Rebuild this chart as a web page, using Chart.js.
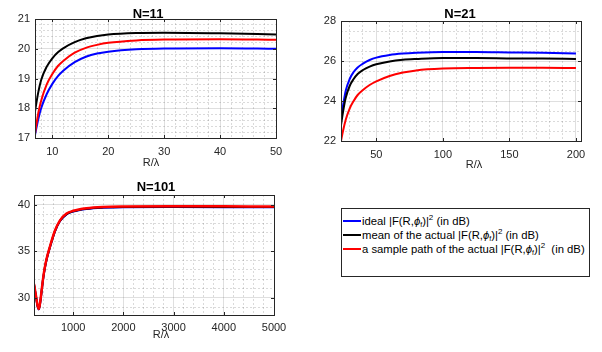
<!DOCTYPE html>
<html>
<head>
<meta charset="utf-8">
<script src="https://cdn.jsdelivr.net/npm/chart.js@4.4.0/dist/chart.umd.min.js"></script>
<style>
  body { margin: 0; background: #fff; width: 602px; height: 352px; overflow: hidden; position: relative;
         font-family: "Liberation Sans", Arial, sans-serif; }
  canvas { position: absolute; }
  #legend { position: absolute; left: 341px; top: 208px; width: 249px; height: 69px; box-sizing: border-box;
            border: 1px solid #262626; background: #fff; }
  #legend .row { position: absolute; left: 0; height: 14px; line-height: 14px; white-space: nowrap;
                 font-size: 11.3px; color: #000; }
  #legend .ln { position: absolute; left: 1px; top: 6px; width: 18px; height: 2px; }
  #legend .tx { position: absolute; left: 20px; top: 0; }
  #legend sup, #legend sub { font-size: 8px; line-height: 0; position: relative; vertical-align: baseline; }
  #legend sup { top: -5px; }
  #legend sub { top: 2px; font-size: 7px; }
</style>
</head>
<body>
<canvas id="c11" width="300" height="176" style="left:0;top:0"></canvas>
<canvas id="c21" width="302" height="176" style="left:300px;top:0"></canvas>
<canvas id="c101" width="300" height="182" style="left:0;top:170px"></canvas>

<div id="legend">
  <div class="row" style="top:5px"><span class="ln" style="background:#0000ff"></span><span class="tx">ideal |F(R,<i>ϕ</i><sub>f</sub>)|<sup>2</sup> (in dB)</span></div>
  <div class="row" style="top:19px"><span class="ln" style="background:#000000"></span><span class="tx">mean of the actual |F(R,<i>ϕ</i><sub>f</sub>)|<sup>2</sup> (in dB)</span></div>
  <div class="row" style="top:33px"><span class="ln" style="background:#ff0000"></span><span class="tx">a sample path of the actual |F(R,<i>ϕ</i><sub>f</sub>)|<sup>2</sup>&nbsp; (in dB)</span></div>
</div>

<script>
// --- dati ---
// N=11
const x11 = [6.9, 7.5, 8, 9, 10, 11, 12, 14, 16, 18, 20, 25, 30, 40, 50];
const ideal11 = [17.1, 17.65, 18.0, 18.48, 18.82, 19.08, 19.27, 19.55, 19.73, 19.84, 19.9, 19.98, 20.01, 20.02, 20.0];
const mean11 = [17.9, 18.55, 18.95, 19.4, 19.68, 19.88, 20.02, 20.22, 20.35, 20.43, 20.48, 20.53, 20.54, 20.52, 20.48];
const sample11 = [17.15, 17.85, 18.25, 18.8, 19.15, 19.42, 19.6, 19.87, 20.03, 20.13, 20.2, 20.28, 20.31, 20.32, 20.3];

// N=21
const x21 = [23.5, 25, 27, 30, 33, 36, 40, 45, 50, 60, 70, 80, 100, 125, 150, 175, 200];
const ideal21 = [23.1, 23.75, 24.5, 25.1, 25.45, 25.68, 25.87, 26.05, 26.17, 26.3, 26.37, 26.41, 26.45, 26.45, 26.43, 26.41, 26.38];
const mean21 = [22.8, 23.45, 24.15, 24.75, 25.1, 25.35, 25.55, 25.72, 25.84, 25.98, 26.06, 26.1, 26.15, 26.15, 26.13, 26.12, 26.1];
const sample21 = [22.0, 22.5, 23.05, 23.62, 24.0, 24.3, 24.55, 24.8, 24.98, 25.25, 25.42, 25.53, 25.62, 25.65, 25.66, 25.66, 25.65];

// N=101
const x101 = [220, 260, 290, 318, 345, 372, 404, 437, 471, 537, 636, 735, 868, 1000, 1266, 1595, 2000, 3000, 4000, 5000];
const ideal101 = [31.4, 30.1, 29.1, 28.76, 29.5, 30.7, 32.1, 33.2, 34.1, 35.4, 37.1, 38.22, 38.97, 39.27, 39.55, 39.69, 39.74, 39.75, 39.74, 39.72];
const mean101 = [31.45, 30.15, 29.15, 28.78, 29.55, 30.75, 32.15, 33.25, 34.15, 35.45, 37.15, 38.26, 39.0, 39.3, 39.58, 39.72, 39.77, 39.78, 39.77, 39.75];
const sample101 = [31.5, 30.2, 29.2, 28.8, 29.6, 30.8, 32.2, 33.3, 34.2, 35.5, 37.2, 38.3, 39.05, 39.35, 39.63, 39.77, 39.82, 39.84, 39.83, 39.82];

const FONT = '"Liberation Sans", Arial, sans-serif';
const AXIS_COLOR = '#262626';

// box completo + tacche interne + titolo e etichetta asse x
const matlabBox = {
  id: 'matlabBox',
  afterDatasetsDraw(chart, args, opts) {
    const { ctx, chartArea: a, scales: { x, y } } = chart;
    ctx.save();
    ctx.strokeStyle = AXIS_COLOR;
    ctx.lineWidth = 1;
    ctx.strokeRect(a.left + 0.5, a.top + 0.5, a.right - a.left, a.bottom - a.top);
    ctx.beginPath();
    x.ticks.forEach(t => {
      if (!opts.isMajorX(t.value)) return;
      const px = Math.round(x.getPixelForValue(t.value)) + 0.5;
      ctx.moveTo(px, a.bottom); ctx.lineTo(px, a.bottom - 3);
      ctx.moveTo(px, a.top); ctx.lineTo(px, a.top + 3);
    });
    y.ticks.forEach(t => {
      if (!opts.isMajorY(t.value)) return;
      const py = Math.round(y.getPixelForValue(t.value)) + 0.5;
      ctx.moveTo(a.left, py); ctx.lineTo(a.left + 3, py);
      ctx.moveTo(a.right, py); ctx.lineTo(a.right - 3, py);
    });
    ctx.stroke();

    ctx.fillStyle = '#000';
    ctx.textAlign = 'center';
    ctx.textBaseline = 'alphabetic';
    ctx.font = 'bold 13px ' + FONT;
    ctx.fillText(opts.title, opts.titleX, opts.titleY);
    ctx.fillStyle = AXIS_COLOR;
    ctx.font = '11px ' + FONT;
    ctx.fillText('R/λ', opts.labelX, opts.labelY);
    ctx.restore();
  }
};

function majorTest(step) {
  return v => Math.abs(v / step - Math.round(v / step)) < 1e-6;
}

function axisOpts(min, max, minor, major, size, isX, pad) {
  const isMajor = majorTest(major);
  return {
    type: 'linear', min: min, max: max,
    afterFit: s => { if (isX) s.height = size; else s.width = size; },
    // tacche ai multipli del passo minore (griglia minore + maggiore)
    afterBuildTicks: s => {
      const t = [];
      const k0 = Math.ceil(min / minor - 1e-9), k1 = Math.floor(max / minor + 1e-9);
      for (let k = k0; k <= k1; k++) t.push({ value: +(k * minor).toFixed(6) });
      s.ticks = t;
    },
    ticks: {
      autoSkip: false, maxRotation: 0, minRotation: 0, padding: pad, color: AXIS_COLOR,
      font: { family: FONT, size: 11 },
      callback: v => isMajor(v) ? String(Math.round(v)) : ''
    },
    grid: {
      drawTicks: false, lineWidth: 1,
      color: c => (c.tick && isMajor(c.tick.value)) ? 'rgba(38,38,38,0.15)' : 'rgba(38,38,38,0.17)'
    },
    border: {
      display: false,
      dash: c => (c.tick && isMajor(c.tick.value)) ? [] : [2, 2]
    }
  };
}

function makePlot(id, p) {
  const canvas = document.getElementById(id);
  const W = canvas.width, H = canvas.height;
  const a = p.area;
  const serie = (ys, color, order) => ({
    data: p.x.map((xv, i) => ({ x: xv, y: ys[i] })),
    borderColor: color, borderWidth: p.lw[order], pointRadius: 0,
    cubicInterpolationMode: 'monotone', fill: false, order: order
  });
  return new Chart(canvas, {
    type: 'line',
    data: {
      datasets: [
        serie(p.ideal, '#0000ff', 2),
        serie(p.mean, '#000000', 1),
        serie(p.sample, '#ff0000', 0)
      ]
    },
    options: {
      responsive: false, animation: false, devicePixelRatio: 1,
      layout: { padding: { left: 0, top: a.t, right: W - a.r, bottom: 0 } },
      plugins: {
        legend: { display: false },
        tooltip: { enabled: false },
        matlabBox: {
          title: p.title, titleX: p.titleX, titleY: p.titleY,
          labelX: p.labelX, labelY: p.labelY,
          isMajorX: majorTest(p.xs[3]), isMajorY: majorTest(p.ys[3])
        }
      },
      scales: {
        x: axisOpts(p.xs[0], p.xs[1], p.xs[2], p.xs[3], H - a.b, true, p.xpad),
        y: axisOpts(p.ys[0], p.ys[1], p.ys[2], p.ys[3], a.l, false, p.ypad)
      }
    },
    plugins: [matlabBox]
  });
}

makePlot('c11', {
  x: x11, ideal: ideal11, mean: mean11, sample: sample11, lw: [2, 2, 2],
  area: { l: 35, t: 19, r: 276, b: 138 },
  xs: [6.9, 50, 2, 10], ys: [17, 21, 0.2, 1], xpad: 7, ypad: 5,
  title: 'N=11', titleX: 148, titleY: 18, labelX: 151, labelY: 166
});

makePlot('c21', {
  x: x21, ideal: ideal21, mean: mean21, sample: sample21, lw: [2, 2, 2],
  area: { l: 41, t: 21, r: 281, b: 141 },
  xs: [23.5, 203.8, 10, 50], ys: [22, 28, 0.5, 2], xpad: 7, ypad: 5,
  title: 'N=21', titleX: 160, titleY: 17.5, labelX: 174, labelY: 168
});

makePlot('c101', {
  x: x101, ideal: ideal101, mean: mean101, sample: sample101, lw: [2.5, 2, 2],
  area: { l: 34, t: 25, r: 274, b: 145 },
  xs: [220, 5000, 200, 1000], ys: [28.15, 41.05, 1, 5], xpad: 6, ypad: 4,
  title: 'N=101', titleX: 156, titleY: 20.5, labelX: 161, labelY: 168
});
</script>
</body>
</html>
